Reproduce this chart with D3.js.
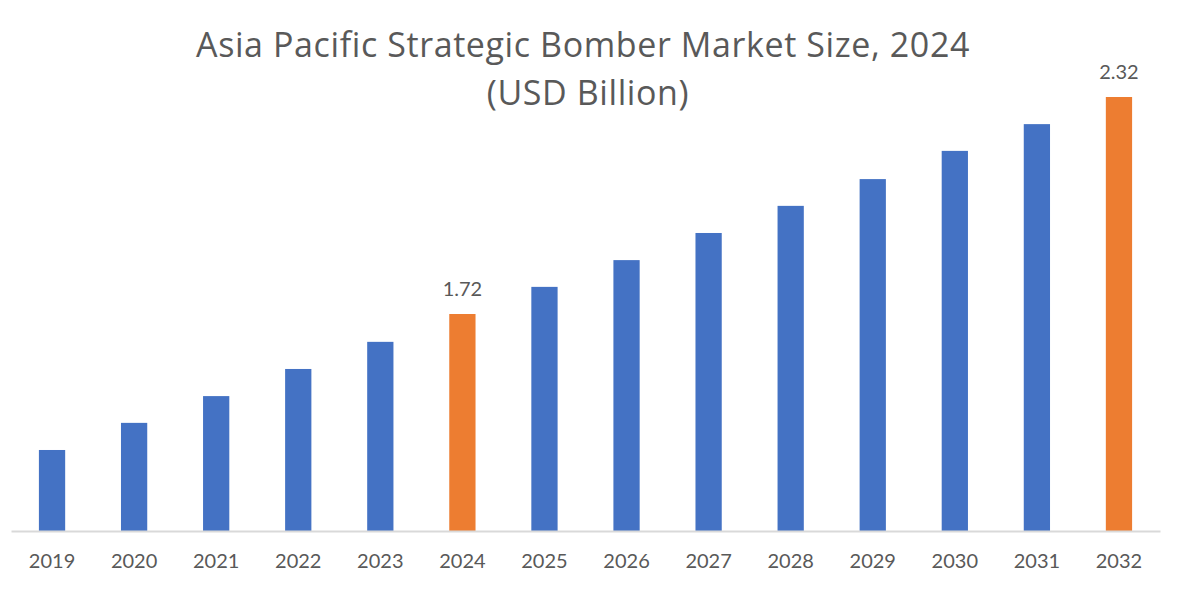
<!DOCTYPE html>
<html>
<head>
<meta charset="utf-8">
<script src="https://cdn.jsdelivr.net/npm/d3@7"></script>
<style>
  body { margin: 0; background: #fff; }
  text { font-family: Lato, "Open Sans", sans-serif; fill: #595959; }
</style>
</head>
<body>
<script>
var width = 1181;
var height = 600;

// values
var years = ["2019", "2020", "2021", "2022", "2023", "2024", "2025",
             "2026", "2027", "2028", "2029", "2030", "2031", "2032"];
var values = [1.344, 1.419, 1.493, 1.568, 1.643, 1.72, 1.795,
              1.869, 1.944, 2.019, 2.093, 2.171, 2.245, 2.32];
var highlighted = ["2024", "2032"];
var axisMin = 1.12;   // chart axis does not start at zero

var svg = d3.select("body")
            .append("svg")
            .attr("width", width)
            .attr("height", height);

var x = d3.scaleBand()
          .domain(years)
          .range([11, 1160])
          .paddingInner(0.68)
          .paddingOuter(0.34);

var y = d3.scaleLinear()
          .domain([axisMin, 2.32])
          .range([531, 97]);

// title
svg.append("text")
   .attr("x", 583)
   .attr("y", 57)
   .attr("text-anchor", "middle")
   .style("font-family", "'Open Sans', sans-serif")
   .style("font-size", "34px")
   .style("letter-spacing", "0.6px")
   .text("Asia Pacific Strategic Bomber Market Size, 2024");
svg.append("text")
   .attr("x", 588)
   .attr("y", 105)
   .attr("text-anchor", "middle")
   .style("font-family", "'Open Sans', sans-serif")
   .style("font-size", "34px")
   .style("letter-spacing", "0.6px")
   .text("(USD Billion)");

// bars
svg.selectAll("rect.bar")
   .data(years)
   .enter()
   .append("rect")
   .attr("class", "bar")
   .attr("x", function(d){ return x(d); })
   .attr("width", x.bandwidth())
   .attr("y", function(d, i){ return y(values[i]); })
   .attr("height", function(d, i){ return y(axisMin) - y(values[i]); })
   .attr("fill", function(d){
       return highlighted.indexOf(d) >= 0 ? "#ED7D31" : "#4472C4";
   });

// value labels on the orange bars
svg.selectAll("text.val")
   .data(years.filter(function(d){ return highlighted.indexOf(d) >= 0; }))
   .enter()
   .append("text")
   .attr("class", "val")
   .attr("x", function(d){ return x(d) + x.bandwidth() / 2; })
   .attr("y", function(d){ return y(values[years.indexOf(d)]) - 18; })
   .attr("text-anchor", "middle")
   .style("font-size", "20px")
   .text(function(d){ return values[years.indexOf(d)].toFixed(2); });

// x axis
var xAxis = d3.axisBottom(x).tickSize(0).tickPadding(23);
var gx = svg.append("g")
   .attr("transform", "translate(0," + y(axisMin) + ")")
   .call(xAxis);
gx.select(".domain").attr("stroke", "#D9D9D9").attr("stroke-width", 2);
gx.selectAll("text")
  .style("font-size", "20px")
  .style("font-family", "Lato, 'Open Sans', sans-serif")
  .attr("fill", "#595959");
</script>
</body>
</html>
